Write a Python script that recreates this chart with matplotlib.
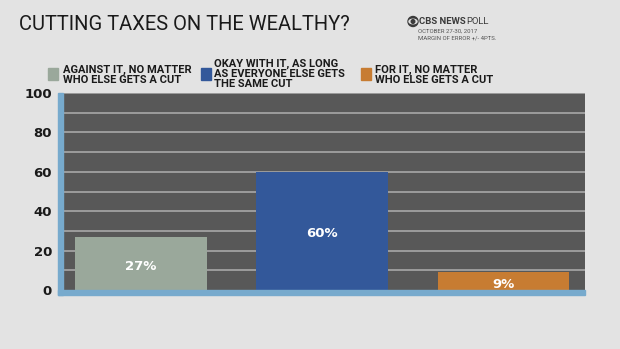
import matplotlib
matplotlib.use("Agg")
import matplotlib.pyplot as plt
from matplotlib.patches import Rectangle, Ellipse

# data
categories = ["AGAINST IT, NO MATTER\nWHO ELSE GETS A CUT",
              "OKAY WITH IT, AS LONG\nAS EVERYONE ELSE GETS\nTHE SAME CUT",
              "FOR IT, NO MATTER\nWHO ELSE GETS A CUT"]
values = [27, 60, 9]
labels = ["27%", "60%", "9%"]
colors = ["#9aa89b", "#33589a", "#c77c32"]
yticks = [0, 20, 40, 60, 80, 100]

W, H = 620, 349
fig = plt.figure(figsize=(W / 100, H / 100), dpi=100)
fig.patch.set_facecolor("#e3e3e3")

FONT = ["Roboto", "DejaVu Sans"]

def px(x, y):
    return x / W, 1 - y / H

# plot area
ax = fig.add_axes([63 / W, 1 - 290 / H, 522 / W, 197 / H])
ax.set_facecolor("#585858")
x = range(len(values))
ax.bar(x, values, width=0.725, color=colors, zorder=3)
ax.set_xlim(-0.43, 2.45)
ax.set_ylim(0, 100)
for g in range(10, 101, 10):
    ax.axhline(g, color="#a2a2a2", lw=1.3, zorder=2)
for s in ax.spines.values():
    s.set_visible(False)
ax.set_xticks([])
ax.set_yticks(yticks)
ax.tick_params(axis="y", length=0, pad=8)
for t in ax.get_yticklabels():
    t.set_fontsize(9.5)
    t.set_fontweight("bold")
    t.set_color("#1a1a1a")

for i, v in enumerate(values):
    ax.text(i, v / 2 - 1.5, labels[i], ha="center", va="center", color="white",
            fontsize=9.5, fontweight="bold", zorder=4)

# blue axis frame
fig.add_artist(Rectangle(px(58, 295), 5 / W, 202 / H, color="#77aacd", transform=fig.transFigure))
fig.add_artist(Rectangle(px(58, 295), 527 / W, 5 / H, color="#77aacd", transform=fig.transFigure))

# title
fig.text(*px(19, 24), "CUTTING TAXES ON THE WEALTHY?", fontsize=14.5, family=FONT,
         fontweight="normal", color="#1a1a1a", va="center", ha="left")

# cbs block
cx, cy = px(413, 21.5)
fig.add_artist(Ellipse((cx, cy), 10 / W, 10 / H, transform=fig.transFigure, color="#3a3a3a"))
fig.add_artist(Ellipse((cx, cy), 8 / W, 4.5 / H, transform=fig.transFigure, color="#e3e3e3"))
fig.add_artist(Ellipse((cx, cy), 3.6 / W, 3.6 / H, transform=fig.transFigure, color="#3a3a3a"))
fig.text(*px(419, 22), "CBS NEWS", fontsize=6.8, family=FONT, fontweight="bold",
         color="#3a3a3a", va="center", ha="left")
fig.text(*px(466, 22), "POLL", fontsize=6.8, family=FONT, color="#3a3a3a", va="center", ha="left")
fig.text(*px(418, 31), "OCTOBER 27-30, 2017", fontsize=4.3, family=FONT, color="#555555",
         va="center", ha="left")
fig.text(*px(418, 38.5), "MARGIN OF ERROR +/- 4PTS.", fontsize=4.3, family=FONT, color="#555555",
         va="center", ha="left")

# legend
sq_x = [48, 201, 361]
tx_x = [63, 214, 375]
tx_y = [75, 74, 75]
for i, c in enumerate(categories):
    fig.add_artist(Rectangle(px(sq_x[i], 80), 10 / W, 12 / H, color=colors[i],
                             transform=fig.transFigure))
    fig.text(*px(tx_x[i], tx_y[i]), c, fontsize=8, family=FONT, fontweight="bold",
             color="#1a1a1a", va="center", ha="left", linespacing=0.98)

fig.savefig("out.png", dpi=100, facecolor=fig.get_facecolor())
